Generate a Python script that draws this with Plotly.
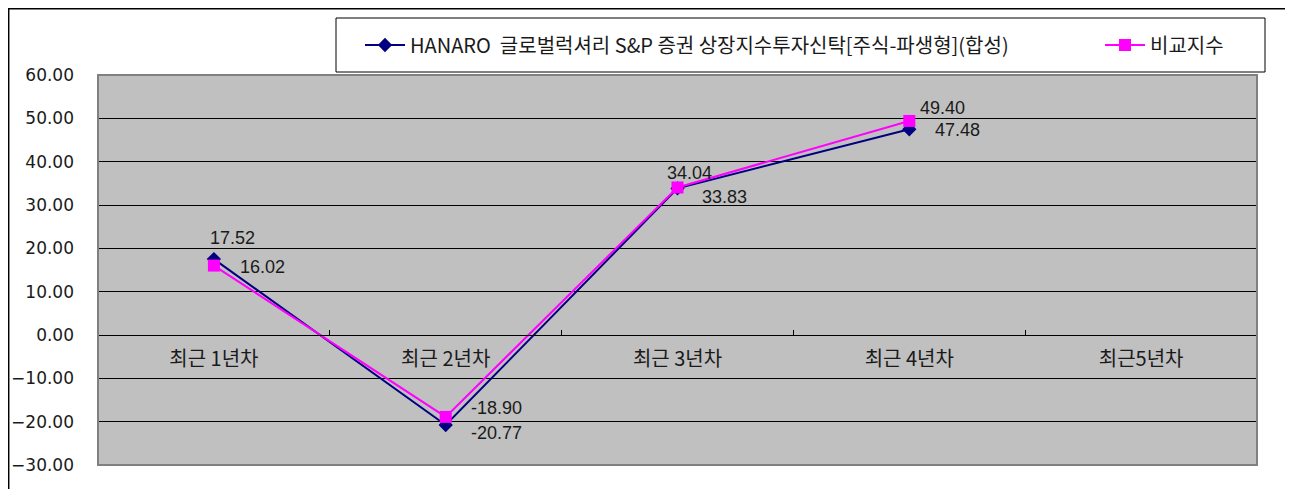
import plotly.graph_objects as go

categories = ["최근 1년차", "최근 2년차", "최근 3년차", "최근 4년차", "최근5년차"]
fund_name = "HANARO  글로벌럭셔리 S&P 증권 상장지수투자신탁[주식-파생형](합성)"
bench_name = "비교지수"
fund_values = [17.52, -20.77, 33.83, 47.48, None]
bench_values = [16.02, -18.90, 34.04, 49.40, None]
y_ticks = [-30, -20, -10, 0, 10, 20, 30, 40, 50, 60]

# label offsets (pixels) - styling only
fund_off = [(19, 21), (51, -8), (47, -9), (48, -1)]
bench_off = [(49, -1), (51, 9), (12, 14), (33, 13)]

KFONT = "Noto Sans CJK KR, DejaVu Sans, sans-serif"
TICKFONT = "DejaVu Sans, sans-serif"
NUMFONT = "Liberation Sans, DejaVu Sans, sans-serif"
TXT = "#1a1a1a"

fig = go.Figure()
fig.add_trace(go.Scatter(
    x=categories, y=fund_values, name=fund_name, mode="lines+markers",
    line=dict(color="#000080", width=2),
    marker=dict(symbol="diamond", size=11, color="#000080"),
    legend="legend",
))
fig.add_trace(go.Scatter(
    x=categories, y=bench_values, name=bench_name, mode="lines+markers",
    line=dict(color="#FF00FF", width=2),
    marker=dict(symbol="square", size=12, color="#FF00FF"),
    legend="legend2",
))

anns = []
for vals, offs in ((fund_values, fund_off), (bench_values, bench_off)):
    for c, v, (dx, dy) in zip(categories, vals, offs):
        if v is None:
            continue
        anns.append(dict(x=c, y=v, xref="x", yref="y", text=f"{v:.2f}",
                         showarrow=False, xshift=dx, yshift=dy,
                         font=dict(family=NUMFONT, size=18, color=TXT)))

# page body has an 8px margin; work in screen coordinates and convert
OFF = 8
W, H = 1293 - OFF, 489 - OFF
L, T = 98 - OFF, 75 - OFF
R = W - (1257 - OFF)
B = H - (465 - OFF)
pw, ph = W - L - R, H - T - B
def px(x): return (x - OFF - L) / pw
def py(y): return (H - B - (y - OFF)) / ph

shapes = [
    # outer chart border
    dict(type="rect", xref="paper", yref="paper", x0=px(8.7), x1=px(1288), y0=py(540), y1=py(8.7),
         line=dict(color="#000000", width=1.5), fillcolor="rgba(0,0,0,0)", layer="below"),
    # legend box
    dict(type="rect", xref="paper", yref="paper", x0=px(336), x1=px(1265), y0=py(72), y1=py(18),
         line=dict(color="#000000", width=1), fillcolor="white", layer="below"),
    # plot area border
    dict(type="rect", xref="paper", yref="paper", x0=0, x1=1, y0=0, y1=1,
         line=dict(color="#808080", width=2), fillcolor="rgba(0,0,0,0)", layer="above"),
]

leg_common = dict(orientation="h", yanchor="middle", y=py(45),
                  bgcolor="rgba(0,0,0,0)", borderwidth=0, xanchor="left",
                  font=dict(family=KFONT, size=20, color=TXT), itemwidth=40)

fig.update_layout(
    width=W, height=H,
    margin=dict(l=L, r=R, t=T, b=B, autoexpand=False),
    paper_bgcolor="white", plot_bgcolor="#C0C0C0",
    font=dict(family=KFONT, size=20, color=TXT),
    showlegend=True,
    legend=dict(x=px(360), **leg_common),
    legend2=dict(x=px(1100), **leg_common),
    annotations=anns,
    shapes=shapes,
)
fig.update_yaxes(range=[-30, 60], tickvals=y_ticks, tickformat=".2f", automargin=False,
                 showgrid=True, gridcolor="#000000", gridwidth=1,
                 zeroline=True, zerolinecolor="#000000", zerolinewidth=1,
                 showline=False, ticks="", ticklabelstandoff=23,
                 tickfont=dict(family=TICKFONT, size=17, color=TXT))
fig.update_xaxes(type="category", categoryorder="array", categoryarray=categories,
                 range=[-0.5, 4.5], anchor="free", position=1/3, automargin=False,
                 showline=True, linecolor="#000000", linewidth=1,
                 showgrid=False, zeroline=False,
                 tickson="boundaries", ticks="inside", ticklen=5, tickcolor="#000000",
                 ticklabelstandoff=6,
                 tickfont=dict(family=KFONT, size=20, color=TXT))

fig.write_html("out.html")
